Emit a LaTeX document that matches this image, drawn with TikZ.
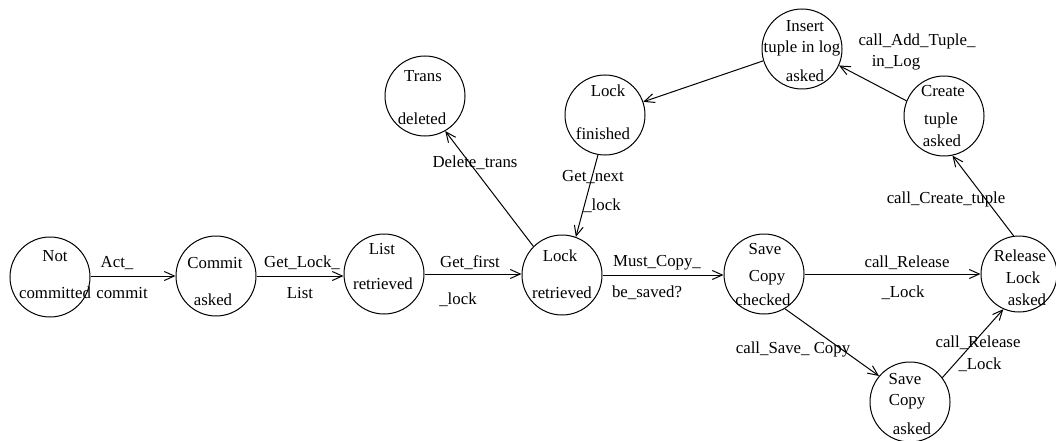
\documentclass[tikz,border=0pt]{standalone}
\usepackage{fontspec}
\setmainfont{Liberation Serif}
\usetikzlibrary{arrows.meta}
\begin{document}
\begin{tikzpicture}[x=1pt,y=-1pt,
  state/.style={circle, draw, line width=1pt, minimum size=80pt, inner sep=0pt},
  txt/.style={inner sep=0pt, font=\fontsize{16.8}{20}\selectfont},
  edge/.style={line width=1pt, -{Straight Barb[length=10pt,width=9pt,line width=1pt]}}]
\useasboundingbox (0,0) rectangle (1056,441);
% states
\node[state] (nc)  at (50,277) {};
\node[state] (ca)  at (216,276) {};
\node[state] (lr)  at (384,274) {};
\node[state] (lk)  at (562,275) {};
\node[state] (scc) at (764,274) {};
\node[state, minimum size=76pt] (rla) at (1019,274) {};
\node[state] (sca) at (910,402) {};
\node[state] (td)  at (425,96) {};
\node[state] (lf)  at (605,115) {};
\node[state] (itl) at (802,49) {};
\node[state] (cta) at (944,116) {};
% state texts
\node[txt] (nc1) at (55,256) {Not};
\node[txt] (nc2) at (55,293) {committed};
\node[txt] (ca1) at (215,263) {Commit};
\node[txt] (ca2) at (213,300) {asked};
\node[txt] (lr1) at (382,249) {List};
\node[txt] (lr2) at (383,284) {retrieved};
\node[txt] (lk1) at (560,256) {Lock};
\node[txt] (lk2) at (562,293) {retrieved};
\node[txt] (scc1) at (765,249) {Save};
\node[txt] (scc2) at (767,278) {Copy};
\node[txt] (scc3) at (763,300) {checked};
\node[txt] (rla1) at (1020,256) {Release};
\node[txt] (rla2) at (1023,278) {Lock};
\node[txt] (rla3) at (1027,300) {asked};
\node[txt] (sca1) at (905,379) {Save};
\node[txt] (sca2) at (907,402) {Copy};
\node[txt] (sca3) at (912,429) {asked};
\node[txt] (td1) at (423,76) {Trans};
\node[txt] (td2) at (422,119) {deleted};
\node[txt] (lf1) at (608,91) {Lock};
\node[txt] (lf2) at (603,134) {finished};
\node[txt] (itl1) at (805,26) {Insert};
\node[txt] (itl2) at (802,48) {tuple in log};
\node[txt] (itl3) at (805,76) {asked};
\node[txt] (cta1) at (943,91) {Create};
\node[txt] (cta2) at (941,120) {tuple};
\node[txt] (cta3) at (942,141) {asked};
% edges
\draw[edge] (nc.east |- ca.west) -- (ca.west);
\draw[edge] (ca.east) -- (lr.west |- ca.east);
\draw[edge] (lr.east) -- (lk.west |- lr.east);
\draw[edge] (lk.east) -- (scc.west |- lk.east);
\draw[edge] (scc.east) -- (rla.west |- scc.east);
\draw[edge] (scc.301) -- (sca.140);
\draw[edge] (sca.37) -- (rla.246);
\draw[edge] (rla.98) -- (cta.282);
\draw[edge] (cta.158) -- (itl.336);
\draw[edge] (itl.197) -- (lf.19);
\draw[edge] (lf.260) -- (lk.70);
\draw[edge] (lk.135) -- (td.300);
% edge labels
\node[txt] (e1a) at (117,263) {Act\_};
\node[txt] (e1b) at (122,293) {commit};
\node[txt] (e2a) at (302,263) {Get\_Lock\_};
\node[txt] (e2b) at (300,293) {List};
\node[txt] (e3a) at (470,263) {Get\_first};
\node[txt] (e3b) at (458,300) {\_lock};
\node[txt] (e4a) at (657,263) {Must\_Copy\_};
\node[txt] (e4b) at (647,293) {be\_saved?};
\node[txt] (e5a) at (907,263) {call\_Release};
\node[txt] (e5b) at (903,293) {\_Lock};
\node[txt] (e6) at (793,349) {call\_Save\_ Copy};
\node[txt] (e7a) at (978,343) {call\_Release};
\node[txt] (e7b) at (980,365) {\_Lock};
\node[txt] (e8) at (946,199) {call\_Create\_tuple};
\node[txt] (e9a) at (917,41) {call\_Add\_Tuple\_};
\node[txt] (e9b) at (896,63) {in\_Log};
\node[txt] (e10a) at (593,177) {Get\_next};
\node[txt] (e10b) at (602,206) {\_lock};
\node[txt] (e11) at (475,163) {Delete\_trans};
\end{tikzpicture}
\end{document}
